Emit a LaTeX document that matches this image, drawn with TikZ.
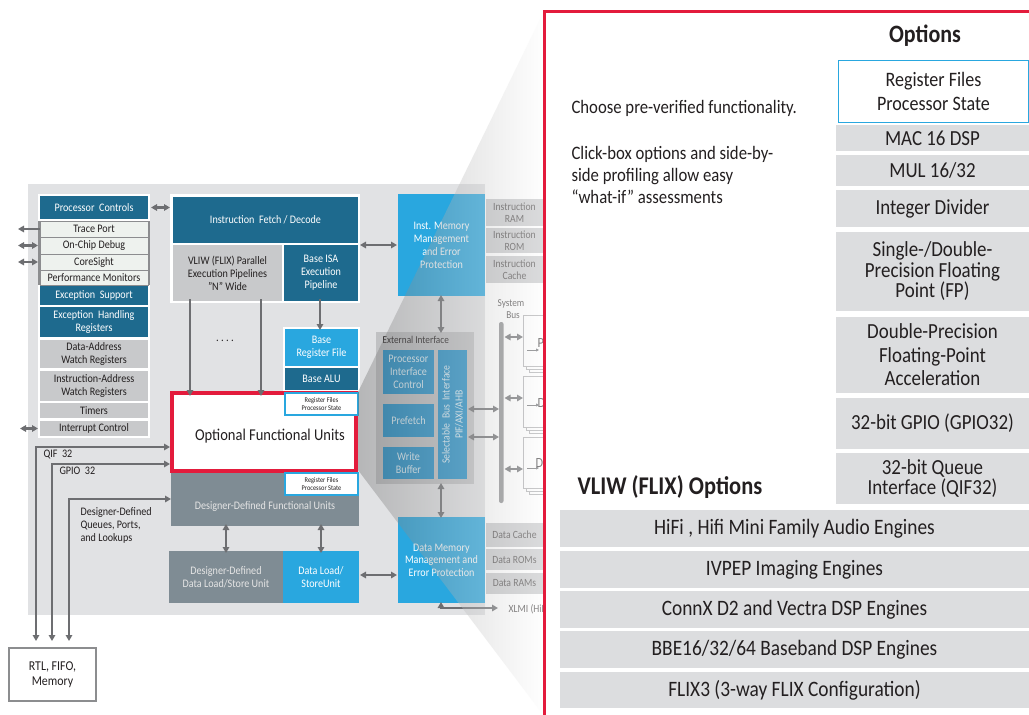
\documentclass[tikz,border=0pt]{standalone}
\usepackage{fontspec}
\setmainfont{Carlito}[FakeStretch=0.88]
\usetikzlibrary{arrows.meta}
\definecolor{cteal}{HTML}{1E6A8E}
\definecolor{cblue}{HTML}{29A7DF}
\definecolor{cblue2}{HTML}{2390C8}
\definecolor{cslate}{HTML}{7F8C94}
\definecolor{cgrey}{HTML}{C8C9CB}
\definecolor{cpanel}{HTML}{E1E2E4}
\definecolor{cpale}{HTML}{EEF2EE}
\definecolor{cline}{HTML}{8C8D8F}
\definecolor{carrow}{HTML}{6D6E71}
\definecolor{cred}{HTML}{E31B3C}
\definecolor{copt}{HTML}{DCDDDF}
\definecolor{ctext}{HTML}{231F20}
\definecolor{cext}{HTML}{C0C1C3}
\newcommand\fs[2]{\fontsize{#1}{#2}\selectfont}
\begin{document}
\begin{tikzpicture}[x=1pt,y=-1pt,
  bx/.style={rectangle, inner sep=0pt, outer sep=0pt, anchor=north west, align=center},
  tealbox/.style={bx, fill=cteal, text=white, font=\fs{11.5}{13}},
  greybox/.style={bx, fill=cgrey, text=ctext, font=\fs{11.5}{13}},
  palebox/.style={bx, fill=cpale, draw=cline, line width=0.8, text=ctext, font=\fs{11.5}{13}},
  bluebox/.style={bx, fill=cblue, text=white, font=\fs{11.5}{13}},
  extbox/.style={bx, fill=cblue2, text=white!85!cblue, font=\fs{11.5}{13}},
  slatebox/.style={bx, fill=cslate, text=white!90!black, font=\fs{11.5}{13}},
  rfbox/.style={bx, fill=white, draw=cblue, line width=1.5, text=ctext, font=\fs{7.2}{8}, minimum width=73, minimum height=22},
  memgrey/.style={bx, fill=cgrey, text=ctext!80!white, font=\fs{11}{12.5}, minimum width=57},
  optbox/.style={bx, fill=copt, text=ctext, font=\fs{21.5}{20.5}, minimum width=193},
  rowbox/.style={bx, fill=copt, text=ctext, font=\fs{22}{24}, minimum width=469},
  card/.style={bx, fill=white, draw=cline!70, line width=1, minimum width=40, minimum height=51},
  arr/.style={draw=carrow, line width=2.2, -{Triangle[length=6pt,width=6.5pt]}},
  darr/.style={draw=carrow, line width=2.2, {Triangle[length=6pt,width=6.5pt]}-{Triangle[length=6pt,width=6.5pt]}},
  sarr/.style={draw=carrow, line width=0.9, -{Triangle[length=3pt,width=3pt]}},
]
\useasboundingbox (0,0) rectangle (1029,715);
\fill[white] (0,0) rectangle (1029,715);
% panel
\fill[cpanel] (28,184) rectangle (485,615);

% ---------- left column ----------
\fill[white] (38,194) rectangle (150,438);
\node[tealbox, minimum width=108, minimum height=23] (pc) at (40,196) {Processor\ \ Controls};
\node[palebox, minimum width=108, minimum height=16] (tp) at (40,221) {Trace Port};
\node[palebox, minimum width=108, minimum height=17] (od) at (40,237) {On-Chip Debug};
\node[palebox, minimum width=108, minimum height=16] (cs) at (40,254) {CoreSight};
\node[palebox, minimum width=108, minimum height=15] (pm) at (40,270) {Performance Monitors};
\draw[cline, line width=2] (39,221) -- (39,285) (149,221) -- (149,285);
\node[tealbox, minimum width=108, minimum height=19] (es) at (40,286) {Exception\ \ Support};
\node[tealbox, minimum width=108, minimum height=30] (ehr) at (40,307) {Exception\ \ Handling\\Registers};
\node[greybox, minimum width=108, minimum height=28] (daw) at (40,340) {Data-Address\\Watch Registers};
\node[greybox, minimum width=108, minimum height=30] (iaw) at (40,371) {Instruction-Address\\Watch Registers};
\node[greybox, minimum width=108, minimum height=15] (tm) at (40,403) {Timers};
\node[greybox, minimum width=108, minimum height=15] (ic) at (40,421) {Interrupt Control};

\coordinate (lx18) at (18,0);
\coordinate (lx20) at (20,0);
\draw[arr] (tp.west) -- (tp.west -| lx18);
\draw[darr] ([xshift=-2pt]od.west) -- (od.west -| lx18);
\draw[darr] ([xshift=-2pt]cs.west) -- (cs.west -| lx18);
\draw[darr] ([xshift=-2pt]ic.west) -- (ic.west -| lx20);

% ---------- top block ----------
\fill[white] (170,194) rectangle (360,303);
\node[tealbox, minimum width=185, minimum height=46] (ifd) at (173,197) {Instruction\ \ Fetch / Decode};
\node[greybox, minimum width=109, minimum height=56] (vliw) at (173,245) {VLIW (FLIX) Parallel\\Execution Pipelines\\"N" Wide};
\node[tealbox, minimum width=74, minimum height=56] (bisa) at (284,245) {Base ISA\\Execution\\Pipeline};
\draw[darr] ([xshift=3pt]pc.east) -- ([xshift=-3pt]pc.east -| ifd.west);

\fill[white] (283,327) rectangle (360,391);
\node[bluebox, minimum width=73, minimum height=37] (brf) at (285,329) {Base\\Register File};
\node[tealbox, minimum width=73, minimum height=22] (alu) at (285,368) {Base ALU};

% optional functional units
\node[bx, draw=cred, line width=4, fill=white, minimum width=184, minimum height=78] (ofu) at (172,393) {};
\node[font=\fs{16.5}{18}, text=ctext] at (270,436) {Optional Functional Units};
\node[rfbox] (rf1) at (285,393) {Register Files\\Processor State};

\coordinate (vx1) at (190,0);
\coordinate (vx2) at (261,0);
\coordinate (vx3) at (320,0);
\draw[arr] ([yshift=2pt]vliw.south -| vx1) -- ([yshift=-3pt]ofu.north -| vx1);
\draw[arr] ([yshift=2pt]vliw.south -| vx2) -- ([yshift=-3pt]ofu.north -| vx2);
\draw[arr] ([yshift=2pt]bisa.south -| vx3) -- ([yshift=-1pt]brf.north -| vx3);
\node[font=\fs{12}{14}, text=ctext] (dots) at (225,341) {.\ .\ .\ .};

% designer-defined
\node[slatebox, minimum width=188, minimum height=53] (ddfu) at (171,473) {};
\node[font=\fs{11.5}{13}, text=white!90!black] at (265,506) {Designer-Defined Functional Units};
\node[rfbox] (rf2) at (285,473) {Register Files\\Processor State};
\node[slatebox, minimum width=114, minimum height=52] (ddls) at (169,551) {Designer-Defined\\Data Load/Store Unit};
\node[bluebox, minimum width=76, minimum height=52] (dls) at (283,551) {Data Load/\\StoreUnit};
\coordinate (dx1) at (226,0);
\coordinate (dx2) at (321,0);
\draw[darr] ([yshift=2pt]ddfu.south -| dx1) -- ([yshift=-2pt]ddls.north -| dx1);
\draw[darr] ([yshift=2pt]ddfu.south -| dx2) -- ([yshift=-2pt]dls.north -| dx2);

% RTL / queues
\node[bx, draw=cline, line width=2, fill=white, minimum width=87, minimum height=53, font=\fs{13.5}{14.5}, text=ctext] (rtl) at (9,648) {RTL, FIFO,\\Memory};
\coordinate (qy) at (36,447);
\coordinate (gy) at (52,464);
\coordinate (dy) at (69,499);
\draw[darr, shorten <=2pt, shorten >=7pt] (ofu.west |- qy) -- (qy) -- (qy |- rtl.north);
\draw[darr, shorten <=2pt, shorten >=7pt] (ofu.west |- gy) -- (gy) -- (gy |- rtl.north);
\draw[darr, shorten >=7pt] (ddfu.west |- dy) -- (dy) -- (dy |- rtl.north);
\node[anchor=west, font=\fs{11.5}{13}, text=ctext] (lq) at (40,455) {QIF\ \ 32};
\node[anchor=west, font=\fs{11.5}{13}, text=ctext] (lg) at (56,471) {GPIO\ \ 32};
\node[anchor=north west, align=left, font=\fs{11.5}{13}, text=ctext] (ld) at (77,504) {Designer-Defined\\Queues, Ports,\\and Lookups};

% ---------- memory side ----------
\node[bluebox, minimum width=87, minimum height=102] (imm) at (398,194) {Inst. Memory\\Management\\and Error\\Protection};
\node[memgrey, minimum height=27] (iram) at (486,199) {Instruction\\RAM};
\node[memgrey, minimum height=25] (irom) at (486,228) {Instruction\\ROM};
\node[memgrey, minimum height=27] (icache) at (486,256) {Instruction\\Cache};
\draw[darr] ([xshift=2pt]ifd.east |- imm.west) -- ([xshift=-1pt]imm.west);

\node[bx, fill=cext, minimum width=98, minimum height=152] (ext) at (376,332) {};
\node[anchor=west, font=\fs{10.5}{12}, text=ctext] (extl) at (379,340) {External Interface};
\node[extbox, minimum width=51, minimum height=44] (pic) at (383,350) {Processor\\Interface\\Control};
\node[extbox, minimum width=51, minimum height=33] (pf) at (383,404) {Prefetch};
\node[extbox, minimum width=51, minimum height=32] (wb) at (383,447) {Write\\Buffer};
\node[extbox, minimum width=29, minimum height=129] (sbi) at (438,350) {};
\node[rotate=90, align=center, font=\fs{11}{13}, text=white!85!cblue] at (sbi.center) {Selectable\ \ Bus\ \ Interface\\PIF/AXI/AHB};

\coordinate (mx) at (441,0);
\draw[darr] ([yshift=1pt]imm.south -| mx) -- ([yshift=-1pt]ext.north -| mx);

\node[bluebox, minimum width=87, minimum height=86, font=\fs{11.5}{12.5}] (dmm) at (398,517) {Data Memory\\Management and\\Error Protection};
\node[memgrey, minimum height=24] (dc) at (486,523) {Data Cache};
\node[memgrey, minimum height=21] (drom) at (486,549) {Data ROMs};
\node[memgrey, minimum height=21] (dram) at (486,573) {Data RAMs};
\draw[darr] ([yshift=1pt]ext.south -| mx) -- ([yshift=-1pt]dmm.north -| mx);
\coordinate (ly) at (0,575);
\draw[darr] ([xshift=1pt]dls.east |- ly) -- ([xshift=-1pt]dmm.west |- ly);
\coordinate (xc) at (441,608);
\coordinate (xe) at (498,608);
\draw[darr] ([yshift=1pt]dmm.south -| xc) -- (xc) -- (xe);
\node[anchor=west, font=\fs{11}{12}, text=ctext!80!white] (xl) at (505,609) {XLMI (HiFi};

% system bus
\node[align=center, font=\fs{10.5}{12.5}, text=ctext!80!white] (sysb) at (511,309) {System\\\ \ Bus};
\node[bx, fill=cline, rounded corners=2, minimum width=4.5, minimum height=181] (bus) at (499,322) {};
\coordinate (b1) at (0,409);
\coordinate (b2) at (0,437);
\draw[darr] ([xshift=1pt]sbi.east |- b1) -- (bus.west |- b1);
\draw[darr] ([xshift=1pt]sbi.east |- b2) -- (bus.west |- b2);
% peripheral cards
\foreach \yy in {315,376,437}{
  \draw[cline!70, fill=white, line width=1] (529,\yy+6) rectangle (570,\yy+57);
  \draw[cline!70, fill=white, line width=1] (526,\yy+3) rectangle (570,\yy+54);
}
\node[card] (p1) at (523,315) {};
\node[card] (p2) at (523,376) {};
\node[card] (p3) at (523,437) {};
\node[font=\fs{14}{15}, text=ctext!85!white, anchor=west] (p1t) at (534,343) {P};
\node[font=\fs{14}{15}, text=ctext!85!white, anchor=west] (p2t) at (534,403) {D};
\node[font=\fs{14}{15}, text=ctext!85!white, anchor=west] (p3t) at (532,463) {D};
\draw[sarr] (527,350) -- (539,350);
\draw[sarr] (527,405) -- (539,405);
\draw[sarr] (527,468) -- (539,468);
\coordinate (c1) at (0,337);
\coordinate (c2) at (0,398);
\coordinate (c3) at (0,469);
\draw[darr] ([xshift=1pt]bus.east |- c1) -- (p1.west |- c1);
\draw[darr] ([xshift=1pt]bus.east |- c2) -- (p2.west |- c2);
\draw[darr] ([xshift=1pt]bus.east |- c3) -- (p3.west |- c3);

% ---------- projection overlay ----------
\shade[left color=black!60, right color=white, opacity=0.35]
  (358,392) -- (544,11) -- (544,716) -- (358,470) -- cycle;

% ---------- right panel ----------
\fill[white] (543,11) rectangle (1030,716);
\draw[cred, line width=3] (544.5,716) -- (544.5,11.5) -- (1030,11.5);

\node[font=\bfseries\fs{25}{28}, text=ctext] (opth) at (925,36) {Options};
\node[bx, fill=white, draw=cblue, line width=1.2, minimum width=190, minimum height=62, font=\fs{20.5}{24}, text=ctext] (orf) at (838.5,60.5) {Register Files\\Processor State};
\node[optbox, minimum height=26] (mac) at (836,125) {MAC 16 DSP};
\node[optbox, minimum height=31] (mul) at (836,155) {MUL 16/32};
\node[optbox, minimum height=37] (idiv) at (836,190) {Integer Divider};
\node[optbox, minimum height=79] (fp) at (836,232) {Single-/Double-\\Precision Floating\\Point (FP)};
\node[optbox, minimum height=76, font=\fs{21.5}{23.5}] (dpfa) at (836,317) {Double-Precision\\Floating-Point\\Acceleration};
\node[optbox, minimum height=51] (gpio) at (836,398) {32-bit GPIO (GPIO32)};
\node[optbox, minimum height=51] (qif) at (836,453) {32-bit Queue\\Interface (QIF32)};

\node[anchor=west, font=\fs{19}{22}, text=ctext] (t1) at (568,108) {Choose pre-verified functionality.};
\node[anchor=west, align=left, font=\fs{19}{22}, text=ctext] (t2) at (568,175) {Click-box options and side-by-\\side profiling allow easy\\“what-if” assessments};
\node[anchor=west, font=\bfseries\fs{25.5}{28}, text=ctext] (vh) at (574,487) {VLIW (FLIX) Options};

\node[rowbox, minimum height=37] (hifi) at (560,510) {HiFi , Hifi Mini Family Audio Engines};
\node[rowbox, minimum height=37] (ivpep) at (560,551) {IVPEP Imaging Engines};
\node[rowbox, minimum height=37] (connx) at (560,591) {ConnX D2 and Vectra DSP Engines};
\node[rowbox, minimum height=37] (bbe) at (560,631) {BBE16/32/64 Baseband DSP Engines};
\node[rowbox, minimum height=36] (flix) at (560,672) {FLIX3 (3-way FLIX Configuration)};
\end{tikzpicture}
\end{document}
